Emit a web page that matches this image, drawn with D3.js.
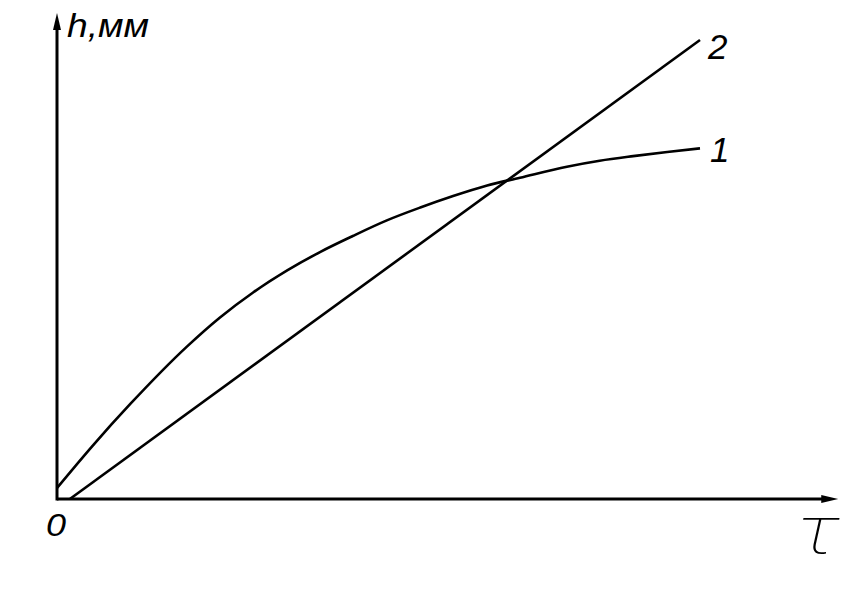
<!DOCTYPE html>
<html>
<head>
<meta charset="utf-8">
<script src="https://cdn.jsdelivr.net/npm/d3@7"></script>
<style>
  html, body { margin: 0; padding: 0; background: #fff; }
  svg { display: block; }
</style>
</head>
<body>
<svg id="chart" width="863" height="599"></svg>
<script>
// Curve 1: time τ (arbitrary units) vs h
const curve1X = [0, 0.56, 1.14, 2.02, 2.53, 3.05, 3.58, 4.09, 4.60, 5.13, 5.65, 6.16, 6.69, 7.20, 7.93, 8.44, 8.96, 9.49, 10];
const curve1Y = [0.24, 1.17, 2.07, 3.32, 3.95, 4.50, 4.98, 5.38, 5.73, 6.07, 6.35, 6.60, 6.83, 7.00, 7.24, 7.37, 7.47, 7.56, 7.64];
// Line 2
const line2X = [0.2, 10];
const line2Y = [0, 10];
// Labels
const seriesLabels = ["1", "2"];
const axisLabelY = "h,мм";
const axisLabelX = "τ";
const originLabel = "0";

const svg = d3.select("#chart");
const x = d3.scaleLinear().domain([0, 10]).range([57, 700]);
const y = d3.scaleLinear().domain([0, 10]).range([499, 40]);
const xAxisEnd = 12.15;
const yAxisEnd = 10.59;

// axes
svg.append("line")
  .attr("x1", x(0)).attr("y1", y(0))
  .attr("x2", x(xAxisEnd) - 10).attr("y2", y(0))
  .attr("stroke", "#000").attr("stroke-width", 3);
svg.append("line")
  .attr("x1", x(0)).attr("y1", y(0) + 1.5)
  .attr("x2", x(0)).attr("y2", y(yAxisEnd) + 10)
  .attr("stroke", "#000").attr("stroke-width", 3);
// arrowheads
const xt = x(xAxisEnd), yt = y(0);
svg.append("path")
  .attr("d", `M${xt},${yt} L${xt - 17},${yt - 4} L${xt - 17},${yt + 4} Z`)
  .attr("fill", "#000");
const ax = x(0), ay = y(yAxisEnd);
svg.append("path")
  .attr("d", `M${ax},${ay} L${ax - 4},${ay + 17} L${ax + 4},${ay + 17} Z`)
  .attr("fill", "#000");

// curve 1
const c1 = curve1X.map((v, i) => [v, curve1Y[i]]);
svg.append("path")
  .datum(c1)
  .attr("d", d3.line().x(d => x(d[0])).y(d => y(d[1])).curve(d3.curveMonotoneX))
  .attr("fill", "none").attr("stroke", "#000").attr("stroke-width", 2.6);

// line 2
const l2 = line2X.map((v, i) => [v, line2Y[i]]);
svg.append("path")
  .datum(l2)
  .attr("d", d3.line().x(d => x(d[0])).y(d => y(d[1])))
  .attr("fill", "none").attr("stroke", "#000").attr("stroke-width", 2.6);

// labels
const font = "'Liberation Sans', Arial, sans-serif";
svg.append("text")
  .attr("x", 67).attr("y", 37)
  .attr("font-family", font).attr("font-style", "italic").attr("font-size", 33)
  .attr("textLength", 82).attr("lengthAdjust", "spacingAndGlyphs")
  .text(axisLabelY);
svg.append("text")
  .attr("x", 46).attr("y", 536)
  .attr("font-family", font).attr("font-style", "italic").attr("font-size", 31)
  .attr("textLength", 20).attr("lengthAdjust", "spacingAndGlyphs")
  .text(originLabel);
svg.append("text")
  .attr("x", x(10) + 8).attr("y", 59)
  .attr("font-family", font).attr("font-style", "italic").attr("font-size", 35)
  .text(seriesLabels[1]);
svg.append("text")
  .attr("x", x(10) + 10).attr("y", 162)
  .attr("font-family", font).attr("font-style", "italic").attr("font-size", 35)
  .text(seriesLabels[0]);
svg.append("text")
  .attr("x", 797).attr("y", 553)
  .attr("font-family", "Roboto, Inter, sans-serif").attr("font-style", "italic")
  .attr("font-weight", 100).attr("font-size", 66)
  .attr("textLength", 42).attr("lengthAdjust", "spacingAndGlyphs")
  .text(axisLabelX);
</script>
</body>
</html>
